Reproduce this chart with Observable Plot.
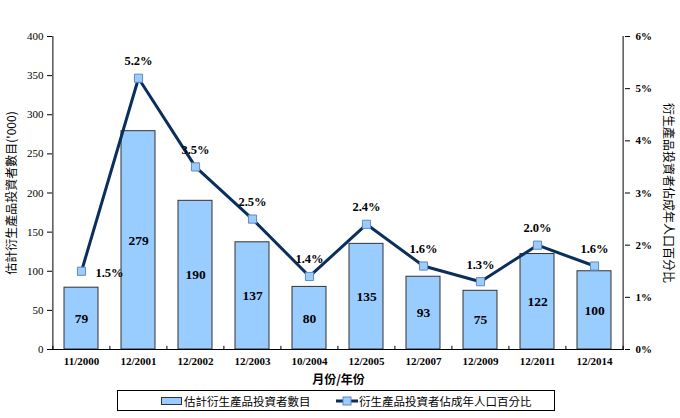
<!DOCTYPE html>
<html><head><meta charset="utf-8">
<script src="https://cdn.jsdelivr.net/npm/d3@7"></script>
<script src="https://cdn.jsdelivr.net/npm/@observablehq/plot@0.6"></script>
<style>
body{margin:0;background:#fff;}
#legend{position:absolute;left:117px;top:390px;width:438px;height:21px;border:1px solid #000;box-sizing:border-box;
 font-family:"Noto Sans CJK TC",sans-serif;font-size:11.5px;white-space:nowrap;}
.it{display:flex;align-items:center;position:absolute;top:0;height:19px;white-space:nowrap;}
</style></head><body>
<div id="chart"></div>
<div id="legend">
 <div class="it" style="left:43px"><span style="display:inline-block;width:19px;height:6px;background:#99CCFF;border:1px solid #333;margin-right:2px"></span>估計衍生產品投資者數目</div>
 <div class="it" style="left:218px"><svg width="22" height="10" style="margin-right:1px"><line x1="0" y1="5" x2="22" y2="5" stroke="#0A2F5C" stroke-width="3"/><rect x="7" y="1" width="8" height="8" fill="#99CCFF" stroke="#6688BB"/></svg>衍生產品投資者佔成年人口百分比</div>
</div>
<script>
const periods = ["11/2000","12/2001","12/2002","12/2003","10/2004","12/2005","12/2007","12/2009","12/2011","12/2014"];
const investors = [79,279,190,137,80,135,93,75,122,100];
const percents = [1.5,5.2,3.5,2.5,1.4,2.4,1.6,1.3,2.0,1.6];
const leftTicks = [0,50,100,150,200,250,300,350,400];
const rightTicks = [0,1,2,3,4,5,6];

const yMax = 400, pMax = 6;
const toY = p => p * yMax / pMax;
const rows = periods.map((p,i)=>({period:p, n:investors[i], pct:percents[i]}));
const serif = '"Liberation Serif", serif';
const cjk = '"Noto Sans CJK TC", sans-serif';
const step = (680-52-56)/periods.length;

const chart = Plot.plot({
  width:680, height:389,
  marginLeft:52, marginRight:56, marginTop:36, marginBottom:40,
  style:{fontFamily:serif, fontSize:"11px", color:"#000", background:"#fff"},
  x:{domain:periods, paddingInner:0.4, paddingOuter:0.2, label:null},
  y:{domain:[0,yMax], label:null},
  marks:[
    Plot.barY(rows,{x:"period", y:"n", fill:"#99CCFF", stroke:"#333", strokeWidth:1}),
    Plot.text(rows,{x:"period", y:d=>d.n/2, text:d=>String(d.n), fontWeight:"bold", fontSize:13.5, fontFamily:serif}),
    Plot.ruleY([0],{stroke:"#000"}),
    Plot.ruleX(periods,{x:d=>d, y1:0, y2:4, dx:-step/2, stroke:"#000"}),
    Plot.ruleX([periods[periods.length-1]],{x:d=>d, y1:0, y2:4, dx:step/2, stroke:"#000"}),
    Plot.axisY({ticks:leftTicks, tickSize:5, tickPadding:4, fontSize:11, fontFamily:serif, label:null}),
    Plot.ruleX([periods[0]],{x:d=>d, y1:0, y2:yMax, dx:-step/2, stroke:"#000"}),
    Plot.ruleX([periods[periods.length-1]],{x:d=>d, y1:0, y2:yMax, dx:step/2, stroke:"#000"}),
    Plot.axisY({anchor:"right", ticks:rightTicks.map(toY), tickFormat:v=>Math.round(v*pMax/yMax)+"%", tickSize:5, tickPadding:6, fontSize:11, fontWeight:"bold", fontFamily:serif, label:null}),
    Plot.axisX({tickSize:0, tickPadding:8, fontSize:11, fontWeight:"bold", fontFamily:serif, label:null}),
    Plot.lineY(rows,{x:"period", y:d=>toY(d.pct), stroke:"#0A2F5C", strokeWidth:3}),
    Plot.dot(rows,{x:"period", y:d=>toY(d.pct), symbol:"square", r:4.6, fill:"#99CCFF", stroke:"#6688BB", strokeWidth:1}),
    Plot.text(rows.slice(1),{x:"period", y:d=>toY(d.pct), text:d=>d.pct.toFixed(1)+"%",
      dy:-17, fontWeight:"bold", fontSize:12.5, fontFamily:serif}),
    Plot.text(rows.slice(0,1),{x:"period", y:d=>toY(d.pct), text:d=>d.pct.toFixed(1)+"%", dx:28, dy:2, fontWeight:"bold", fontSize:12.5, fontFamily:serif}),
    Plot.text(["月份/年份"],{frameAnchor:"bottom", textAnchor:"middle", lineAnchor:"middle", dy:31, fontSize:12, fontWeight:"bold", fontFamily:cjk}),
    Plot.text(["估計衍生產品投資者數目('000)"],{frameAnchor:"left", textAnchor:"middle", lineAnchor:"middle", dx:-40, rotate:-90, fontSize:12, fontFamily:cjk}),
    Plot.text(["衍生產品投資者佔成年人口百分比"],{frameAnchor:"right", textAnchor:"middle", lineAnchor:"middle", dx:43, rotate:90, fontSize:12, fontFamily:cjk})
  ]
});
document.getElementById("chart").appendChild(chart);
</script>
</body></html>
